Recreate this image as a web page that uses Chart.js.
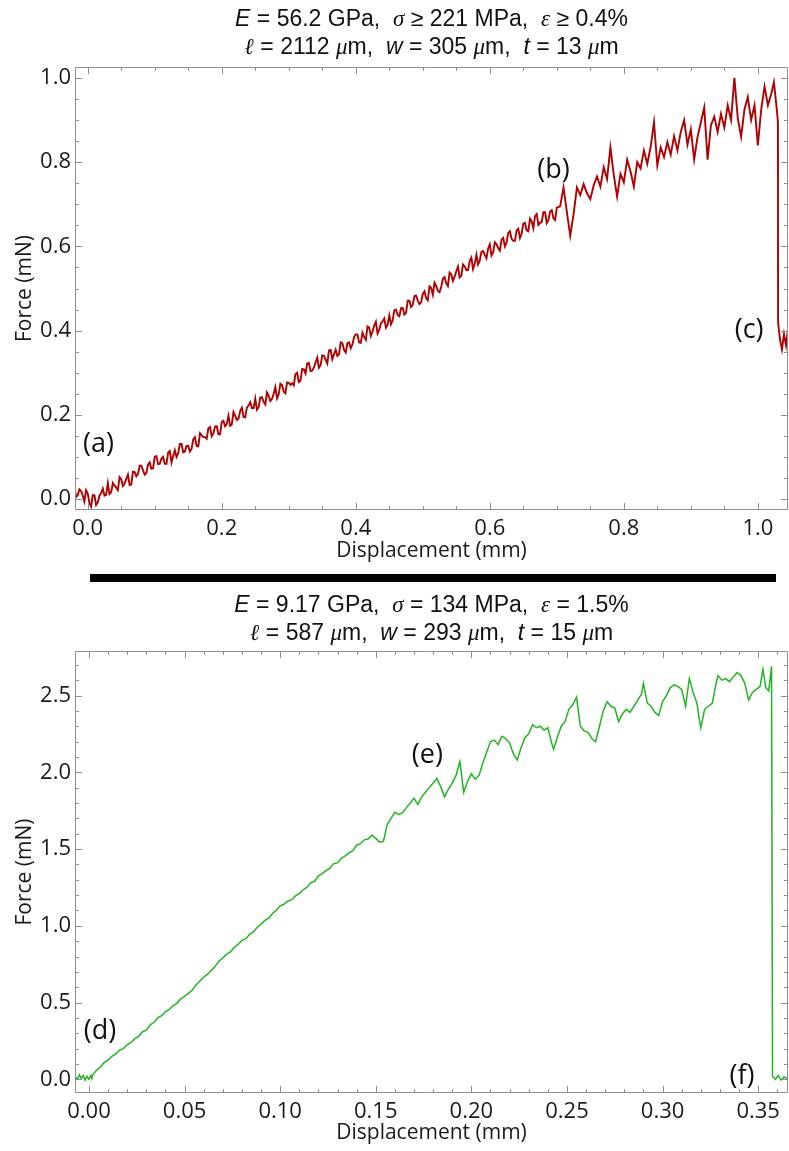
<!DOCTYPE html>
<html>
<head>
<meta charset="utf-8">
<script src="https://cdn.jsdelivr.net/npm/chart.js@4.4.1/dist/chart.umd.min.js"></script>
<style>
  body { margin: 0; background: #fff; }
  #page { position: relative; width: 789px; height: 1151px; overflow: hidden; background: #fff; }
  canvas { position: absolute; left: 0; }
  #c1 { top: 0; }
  #c2 { top: 580px; }
  .ttl { position: absolute; left: 75px; width: 713px; text-align: center; white-space: nowrap;
         font-family: "Liberation Sans", Arial, sans-serif; font-size: 23px; line-height: 28px; color: #111; }
  .ttl i { font-style: italic; }
  .g { font-family: "Liberation Serif", serif; font-style: italic; }
  #bar { position: absolute; left: 90px; top: 574px; width: 686px; height: 8px; background: #000; }
</style>
</head>
<body>
<div id="page">
  <canvas id="c1" width="789" height="570"></canvas>
  <canvas id="c2" width="789" height="571"></canvas>
  <div class="ttl" style="top:4px"><i>E</i> = 56.2 GPa,&nbsp; <span class="g">σ</span> ≥ 221 MPa,&nbsp; <span class="g">ε</span> ≥ 0.4%</div>
  <div class="ttl" style="top:32px"><span class="g">ℓ</span> = 2112 <span class="g">μ</span>m,&nbsp; <i>w</i> = 305 <span class="g">μ</span>m,&nbsp; <i>t</i> = 13 <span class="g">μ</span>m</div>
  <div id="bar"></div>
  <div class="ttl" style="top:590px"><i>E</i> = 9.17 GPa,&nbsp; <span class="g">σ</span> = 134 MPa,&nbsp; <span class="g">ε</span> = 1.5%</div>
  <div class="ttl" style="top:618px"><span class="g">ℓ</span> = 587 <span class="g">μ</span>m,&nbsp; <i>w</i> = 293 <span class="g">μ</span>m,&nbsp; <i>t</i> = 15 <span class="g">μ</span>m</div>
</div>
<script>
// top sample: displacement (mm) / force (mN)
const dispA = [
  -0.020,-0.015,-0.010,-0.005,0.000,0.005,0.010,0.015,0.020,0.025,
  0.030,0.035,0.040,0.045,0.050,0.055,0.060,0.065,0.070,0.075,
  0.080,0.085,0.090,0.095,0.100,0.105,0.110,0.115,0.120,0.125,
  0.130,0.135,0.140,0.145,0.150,0.155,0.160,0.165,0.170,0.175,
  0.180,0.185,0.190,0.195,0.200,0.205,0.210,0.215,0.220,0.225,
  0.230,0.235,0.240,0.245,0.250,0.255,0.260,0.265,0.270,0.275,
  0.280,0.285,0.290,0.295,0.300,0.305,0.310,0.315,0.320,0.325,
  0.330,0.335,0.340,0.345,0.350,0.355,0.360,0.365,0.370,0.375,
  0.380,0.385,0.390,0.395,0.400,0.405,0.410,0.415,0.420,0.425,
  0.430,0.435,0.440,0.445,0.450,0.455,0.460,0.465,0.470,0.475,
  0.480,0.485,0.490,0.495,0.500,0.505,0.510,0.515,0.520,0.525,
  0.530,0.535,0.540,0.545,0.550,0.555,0.560,0.565,0.570,0.575,
  0.580,0.585,0.590,0.595,0.600,0.605,0.610,0.615,0.620,0.625,
  0.630,0.635,0.640,0.645,0.650,0.655,0.660,0.665,0.670,0.675,
  0.680,0.685,0.690,0.695,0.700,0.705,0.710,0.715,0.720,0.725,
  0.730,0.735,0.740,0.745,0.750,0.755,0.760,0.765,0.770,0.775,
  0.780,0.785,0.790,0.795,0.800,0.805,0.810,0.815,0.820,0.825,
  0.830,0.835,0.840,0.845,0.850,0.855,0.860,0.865,0.870,0.875,
  0.880,0.885,0.890,0.895,0.900,0.905,0.910,0.915,0.920,0.925,
  0.930,0.935,0.940,0.945,0.950,0.955,0.960,0.965,0.970,0.975,
  0.980,0.985,0.990,0.995,1.000,1.005,1.010,1.015,1.020,1.024,
  1.028,1.030,1.0302,1.033,1.036,1.039,1.042,1.045
];
const forceA = [
  0.032,0.009,0.019,-0.006,0.013,-0.018,0.009,-0.008,0.014,0.008,
  0.038,0.016,0.032,0.021,0.047,0.037,0.058,0.035,0.064,0.060,
  0.079,0.058,0.082,0.072,0.100,0.083,0.096,0.084,0.110,0.087,
  0.116,0.109,0.131,0.113,0.126,0.119,0.147,0.125,0.151,0.147,
  0.168,0.149,0.172,0.154,0.183,0.173,0.198,0.177,0.198,0.191,
  0.217,0.194,0.222,0.216,0.239,0.218,0.242,0.225,0.245,0.238,
  0.266,0.249,0.270,0.251,0.276,0.275,0.297,0.278,0.309,0.298,
  0.323,0.305,0.325,0.312,0.341,0.331,0.353,0.332,0.355,0.344,
  0.370,0.348,0.372,0.367,0.391,0.372,0.395,0.378,0.407,0.398,
  0.421,0.402,0.422,0.407,0.436,0.424,0.450,0.434,0.454,0.442,
  0.471,0.461,0.483,0.463,0.487,0.477,0.505,0.485,0.506,0.491,
  0.523,0.513,0.538,0.518,0.541,0.526,0.557,0.544,0.565,0.546,
  0.580,0.566,0.589,0.572,0.605,0.586,0.605,0.590,0.620,0.609,
  0.636,0.613,0.638,0.620,0.654,0.638,0.666,0.643,0.677,0.656,
  0.681,0.655,0.683,0.667,0.692,0.695,0.740,0.682,0.625,0.676,
  0.740,0.722,0.748,0.726,0.712,0.745,0.766,0.742,0.788,0.760,
  0.835,0.770,0.718,0.772,0.752,0.806,0.778,0.742,0.800,0.785,
  0.828,0.796,0.836,0.895,0.792,0.835,0.812,0.848,0.818,0.862,
  0.828,0.872,0.900,0.842,0.878,0.806,0.860,0.895,0.930,0.806,
  0.888,0.908,0.872,0.915,0.882,0.935,0.900,1.000,0.905,0.860,
  0.925,0.955,0.900,0.935,0.840,0.925,0.980,0.935,0.962,0.990,
  0.930,0.895,0.420,0.380,0.355,0.392,0.365,0.405
];
// extra top samples between the ones above (dense noise band before (b))
const dispA2 = [
  -0.0175,-0.0125,-0.0075,-0.0025,0.0025,0.0075,0.0125,0.0175,0.0225,0.0275,
  0.0325,0.0375,0.0425,0.0475,0.0525,0.0575,0.0625,0.0675,0.0725,0.0775,
  0.0825,0.0875,0.0925,0.0975,0.1025,0.1075,0.1125,0.1175,0.1225,0.1275,
  0.1325,0.1375,0.1425,0.1475,0.1525,0.1575,0.1625,0.1675,0.1725,0.1775,
  0.1825,0.1875,0.1925,0.1975,0.2025,0.2075,0.2125,0.2175,0.2225,0.2275,
  0.2325,0.2375,0.2425,0.2475,0.2525,0.2575,0.2625,0.2675,0.2725,0.2775,
  0.2825,0.2875,0.2925,0.2975,0.3025,0.3075,0.3125,0.3175,0.3225,0.3275,
  0.3325,0.3375,0.3425,0.3475,0.3525,0.3575,0.3625,0.3675,0.3725,0.3775,
  0.3825,0.3875,0.3925,0.3975,0.4025,0.4075,0.4125,0.4175,0.4225,0.4275,
  0.4325,0.4375,0.4425,0.4475,0.4525,0.4575,0.4625,0.4675,0.4725,0.4775,
  0.4825,0.4875,0.4925,0.4975,0.5025,0.5075,0.5125,0.5175,0.5225,0.5275,
  0.5325,0.5375,0.5425,0.5475,0.5525,0.5575,0.5625,0.5675,0.5725,0.5775,
  0.5825,0.5875,0.5925,0.5975,0.6025,0.6075,0.6125,0.6175,0.6225,0.6275,
  0.6325,0.6375,0.6425,0.6475,0.6525,0.6575,0.6625,0.6675,0.6725,0.6775,
  0.6825,0.6875,0.6925,0.6975
];
const forceA2 = [
  0.005,0.023,0.009,0.021,-0.009,0.009,-0.014,0.008,0.025,0.010,
  0.012,0.038,0.027,0.052,0.031,0.048,0.033,0.065,0.054,0.079,
  0.068,0.062,0.087,0.073,0.102,0.084,0.100,0.084,0.114,0.102,
  0.100,0.131,0.111,0.126,0.113,0.142,0.126,0.156,0.147,0.143,
  0.171,0.156,0.173,0.154,0.186,0.178,0.174,0.207,0.188,0.209,
  0.195,0.217,0.230,0.216,0.212,0.241,0.231,0.253,0.233,0.250,
  0.239,0.274,0.255,0.277,0.271,0.270,0.300,0.281,0.308,0.322,
  0.304,0.312,0.336,0.318,0.340,0.322,0.354,0.344,0.340,0.372,
  0.354,0.370,0.358,0.385,0.391,0.371,0.385,0.410,0.387,0.412,
  0.393,0.417,0.429,0.414,0.415,0.448,0.437,0.453,0.438,0.471,
  0.456,0.482,0.472,0.467,0.493,0.472,0.501,0.514,0.494,0.504,
  0.527,0.506,0.534,0.528,0.552,0.530,0.552,0.544,0.573,0.558,
  0.557,0.587,0.580,0.595,0.578,0.610,0.596,0.616,0.600,0.632,
  0.618,0.613,0.642,0.630,0.656,0.636,0.659,0.672,0.651,0.658,
  0.681,0.662,0.686,0.663
];

// bottom sample
const dispB = [
  -0.0073,-0.006,-0.005,-0.004,-0.003,-0.002,-0.001,0.000,0.001,0.0015,0.002,
  0.004,0.006,0.008,0.010,0.012,0.014,0.016,0.018,0.020,0.022,
  0.024,0.026,0.028,0.030,0.032,0.034,0.036,0.038,0.040,0.042,
  0.044,0.046,0.048,0.050,0.052,0.054,0.056,0.058,0.060,0.062,
  0.064,0.066,0.068,0.070,0.072,0.074,0.076,0.078,0.080,0.082,
  0.084,0.086,0.088,0.090,0.092,0.094,0.096,0.098,0.100,0.102,
  0.104,0.106,0.108,0.110,0.112,0.114,0.116,0.118,0.120,0.122,
  0.124,0.126,0.128,0.130,0.132,0.134,0.136,0.138,0.140,0.142,
  0.144,0.146,0.148,0.150,0.152,0.154,0.156,0.158,0.160,0.162,
  0.164,0.166,0.168,0.170,0.172,0.174,0.176,0.178,0.180,0.182,
  0.184,0.186,0.188,0.190,0.192,0.194,0.196,0.198,0.200,0.202,
  0.204,0.206,0.208,0.210,0.212,0.214,0.216,0.218,0.220,0.222,
  0.224,0.226,0.228,0.230,0.232,0.234,0.236,0.238,0.240,0.242,
  0.243,0.245,0.247,0.249,0.251,0.253,0.255,0.257,0.259,0.261,
  0.263,0.265,0.267,0.269,0.271,0.273,0.275,0.277,0.279,0.281,
  0.283,0.285,0.287,0.289,0.290,0.292,0.294,0.296,0.298,0.300,
  0.302,0.304,0.306,0.308,0.310,0.312,0.314,0.316,0.318,0.319,
  0.320,0.322,0.324,0.326,0.328,0.329,0.331,0.333,0.335,0.337,
  0.339,0.341,0.343,0.345,0.347,0.349,0.351,0.3525,0.354,0.3555,
  0.357,0.3575,0.359,0.3605,0.362,0.3635,0.3652
];
const forceB = [
  0.02,0.00,0.03,0.005,0.025,-0.005,0.02,0.00,0.025,0.005,0.03,
  0.06,0.08,0.11,0.125,0.15,0.165,0.19,0.20,0.225,0.24,
  0.265,0.28,0.31,0.32,0.355,0.37,0.40,0.415,0.44,0.455,
  0.48,0.495,0.525,0.54,0.56,0.58,0.615,0.64,0.665,0.685,
  0.71,0.735,0.77,0.79,0.815,0.83,0.86,0.88,0.905,0.915,
  0.945,0.96,0.99,1.01,1.035,1.05,1.08,1.10,1.13,1.14,
  1.16,1.17,1.195,1.21,1.235,1.25,1.28,1.29,1.325,1.34,
  1.36,1.375,1.405,1.41,1.44,1.455,1.475,1.49,1.525,1.535,
  1.56,1.565,1.59,1.57,1.545,1.55,1.66,1.70,1.74,1.725,
  1.735,1.77,1.80,1.83,1.79,1.84,1.87,1.90,1.93,1.96,
  1.905,1.84,1.89,1.93,1.98,2.07,1.87,1.94,1.99,1.955,
  1.98,2.06,2.13,2.20,2.21,2.18,2.235,2.22,2.19,2.12,
  2.08,2.16,2.225,2.25,2.31,2.29,2.30,2.275,2.29,2.19,
  2.15,2.23,2.30,2.33,2.41,2.44,2.49,2.30,2.27,2.26,
  2.22,2.20,2.30,2.40,2.46,2.43,2.42,2.33,2.38,2.41,
  2.39,2.43,2.47,2.51,2.58,2.45,2.43,2.39,2.37,2.46,
  2.50,2.55,2.57,2.56,2.54,2.43,2.61,2.52,2.45,2.36,
  2.29,2.41,2.43,2.45,2.58,2.63,2.60,2.61,2.59,2.62,
  2.65,2.63,2.58,2.47,2.52,2.54,2.56,2.67,2.55,2.53,
  2.69,0.02,0.00,0.025,-0.005,0.015,0.005
];

// frame ticks
const xMajorA = [0, 0.2, 0.4, 0.6, 0.8, 1.0];
const xMinorA = [0.05, 0.1, 0.15, 0.25, 0.3, 0.35, 0.45, 0.5, 0.55, 0.65, 0.7, 0.75, 0.85, 0.9, 0.95];
const yMajorA = [0, 0.2, 0.4, 0.6, 0.8, 1.0];
const yMinorA = [0.05, 0.1, 0.15, 0.25, 0.3, 0.35, 0.45, 0.5, 0.55, 0.65, 0.7, 0.75, 0.85, 0.9, 0.95];
const xMajorB = [0, 0.05, 0.1, 0.15, 0.2, 0.25, 0.3, 0.35];
const xMinorB = [0.01, 0.02, 0.03, 0.04, 0.06, 0.07, 0.08, 0.09, 0.11, 0.12, 0.13, 0.14, 0.16, 0.17, 0.18, 0.19,
                 0.21, 0.22, 0.23, 0.24, 0.26, 0.27, 0.28, 0.29, 0.31, 0.32, 0.33, 0.34, 0.36];
const yMajorB = [0, 0.5, 1.0, 1.5, 2.0, 2.5];
const yMinorB = [0.1, 0.2, 0.3, 0.4, 0.6, 0.7, 0.8, 0.9, 1.1, 1.2, 1.3, 1.4, 1.6, 1.7, 1.8, 1.9, 2.1, 2.2, 2.3, 2.4, 2.6, 2.7];

const FRAME = '#8f8f8f';
const TICKFONT = { family: '"Open Sans", sans-serif', size: 22 };
const TITLEFONT = { family: '"Open Sans", sans-serif', size: 21 };

// frame with inward ticks on all four sides + "(a)" style labels
const framePlugin = {
  id: 'frameTicks',
  afterDatasetsDraw(chart, args, o) {
    const { ctx, chartArea: a } = chart;
    const x = chart.scales.x, y = chart.scales.y;
    ctx.save();
    ctx.font = '27px "Open Sans", sans-serif';
    ctx.fillStyle = '#111';
    ctx.textAlign = 'center';
    ctx.textBaseline = 'middle';
    o.notes.forEach(n => ctx.fillText(n.text, x.getPixelForValue(n.x), y.getPixelForValue(n.y)));

    ctx.strokeStyle = FRAME;
    ctx.lineWidth = 1;
    ctx.beginPath();
    ctx.rect(a.left + 0.5, a.top + 0.5, a.right - a.left - 1, a.bottom - a.top - 1);
    const xt = (vals, len) => vals.forEach(v => {
      if (v < x.min || v > x.max) return;
      const p = Math.round(x.getPixelForValue(v)) + 0.5;
      ctx.moveTo(p, a.bottom); ctx.lineTo(p, a.bottom - len);
      ctx.moveTo(p, a.top); ctx.lineTo(p, a.top + len);
    });
    const yt = (vals, len) => vals.forEach(v => {
      if (v < y.min || v > y.max) return;
      const p = Math.round(y.getPixelForValue(v)) + 0.5;
      ctx.moveTo(a.left, p); ctx.lineTo(a.left + len, p);
      ctx.moveTo(a.right, p); ctx.lineTo(a.right - len, p);
    });
    xt(o.xMajor, 7); xt(o.xMinor, 4);
    yt(o.yMajor, 7); yt(o.yMinor, 4);
    ctx.stroke();
    ctx.restore();
  }
};

function toPoints(xs, ys) {
  return xs.map((v, i) => ({ x: v, y: ys[i] }));
}

function makeChart(id, s) {
  return new Chart(document.getElementById(id), {
    type: 'line',
    data: { datasets: [{ data: s.points, borderColor: s.color, borderWidth: s.lineWidth, pointRadius: 0, tension: 0, fill: false }] },
    options: {
      responsive: false,
      animation: false,
      devicePixelRatio: 1,
      layout: { padding: { top: s.padTop, right: 1, left: 0, bottom: 0 } },
      plugins: {
        legend: { display: false },
        tooltip: { enabled: false },
        frameTicks: { notes: s.notes, xMajor: s.xMajor, xMinor: s.xMinor, yMajor: s.yMajor, yMinor: s.yMinor }
      },
      scales: {
        x: {
          type: 'linear', min: s.xMin, max: s.xMax,
          grid: { display: false, drawTicks: false },
          border: { display: false },
          afterBuildTicks: sc => { sc.ticks = s.xMajor.map(v => ({ value: v })); },
          afterFit: sc => { sc.height = s.xHeight; },
          ticks: { font: TICKFONT, color: '#1a1a1a', padding: 6, maxRotation: 0, autoSkip: false,
                   callback: v => v.toFixed(s.xDigits) },
          title: { display: true, text: 'Displacement (mm)', color: '#1a1a1a',
                   font: TITLEFONT, padding: { bottom: s.xTitlePad } }
        },
        y: {
          type: 'linear', min: s.yMin, max: s.yMax,
          grid: { display: false, drawTicks: false },
          border: { display: false },
          afterBuildTicks: sc => { sc.ticks = s.yMajor.map(v => ({ value: v })); },
          afterFit: sc => { sc.width = 75; },
          ticks: { font: TICKFONT, color: '#1a1a1a', padding: 4, autoSkip: false,
                   callback: v => v.toFixed(1) },
          title: { display: true, text: 'Force (mN)', color: '#1a1a1a',
                   font: TITLEFONT, padding: { top: 12 } }
        }
      }
    },
    plugins: [framePlugin]
  });
}

const pointsA = toPoints(dispA, forceA).concat(toPoints(dispA2, forceA2)).sort((p, q) => p.x - q.x);

makeChart('c1', {
  points: pointsA, color: '#b00000', lineWidth: 1.9,
  xMin: -0.019, xMax: 1.045, yMin: -0.026, yMax: 1.026,
  xMajor: xMajorA, xMinor: xMinorA, yMajor: yMajorA, yMinor: yMinorA, xDigits: 1,
  padTop: 67, xHeight: 60, xTitlePad: 6,
  notes: [{ text: '(a)', x: 0.016, y: 0.129 }, { text: '(b)', x: 0.695, y: 0.78 }, { text: '(c)', x: 0.987, y: 0.40 }]
});

makeChart('c2', {
  points: toPoints(dispB, forceB), color: '#22b422', lineWidth: 1.5,
  xMin: -0.0073, xMax: 0.3656, yMin: -0.089, yMax: 2.79,
  xMajor: xMajorB, xMinor: xMinorB, yMajor: yMajorB, yMinor: yMinorB, xDigits: 2,
  padTop: 71, xHeight: 58, xTitlePad: 5,
  notes: [{ text: '(d)', x: 0.0058, y: 0.315 }, { text: '(e)', x: 0.177, y: 2.11 }, { text: '(f)', x: 0.3415, y: 0.02 }]
});
</script>
</body>
</html>
